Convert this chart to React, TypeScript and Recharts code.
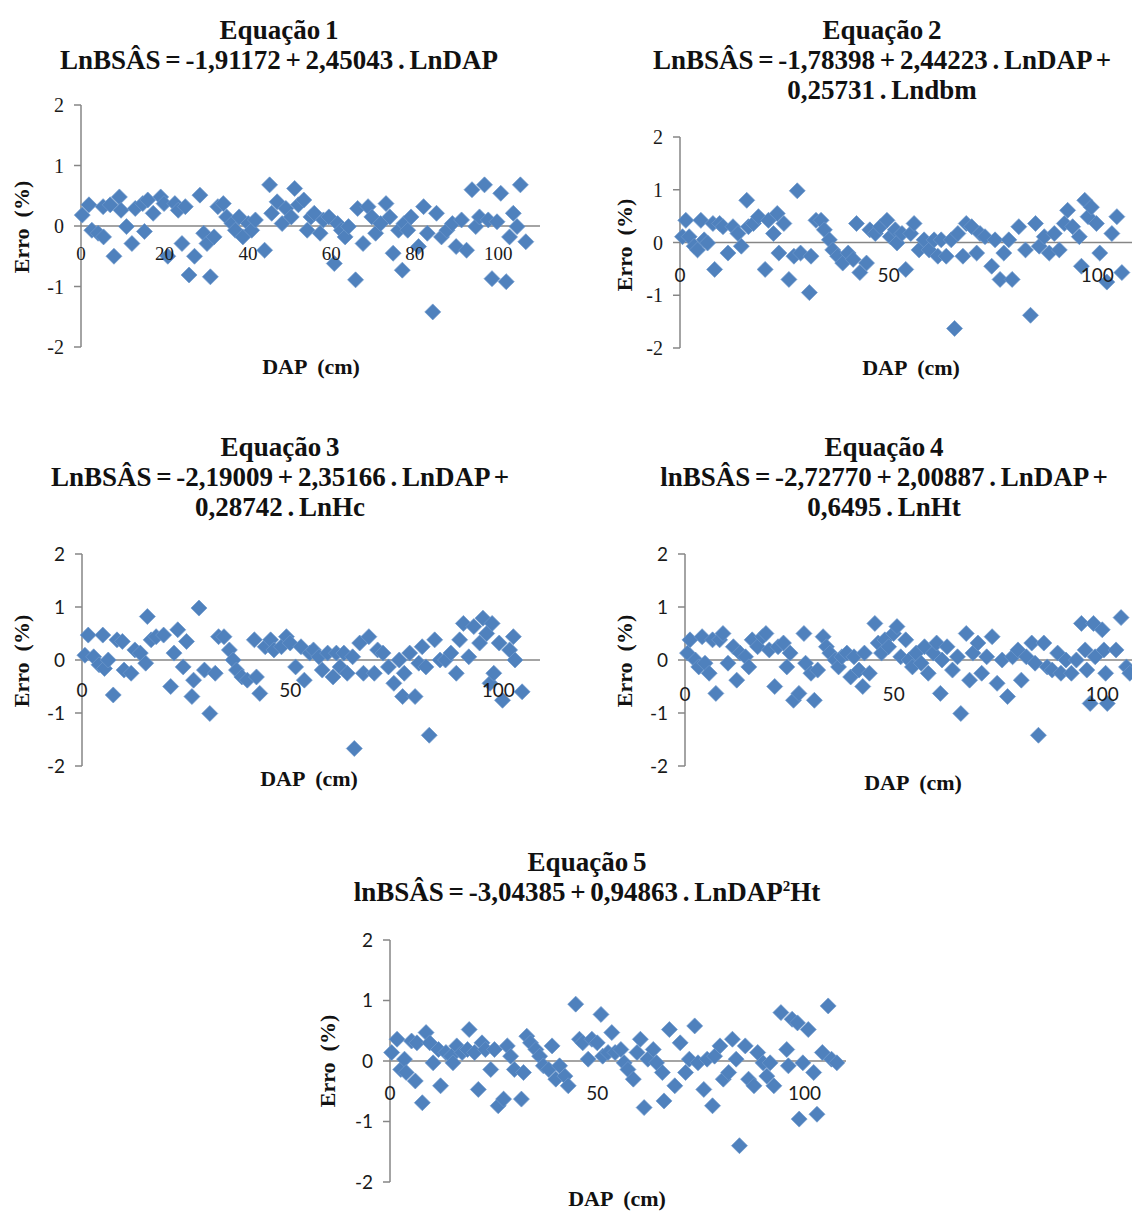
import React from 'react';
import { ScatterChart, Scatter, XAxis, YAxis, ReferenceLine } from 'recharts';

const BLUE = '#4F81BD';
const AXIS = '#868686';
const SERIF = '"Liberation Serif", "Times New Roman", serif';
const SANS = 'Lato, "Open Sans", "Liberation Sans", sans-serif';

const yTicks = [-2, -1, 0, 1, 2];
const xTicks20 = [0, 20, 40, 60, 80, 100];
const xTicks50 = [0, 50, 100];
const xDomain: [number, number] = [0, 110];
const yDomain: [number, number] = [-2, 2];

// [DAP (cm), Erro (%)]
const eq1Points: [number, number][] = [
  [0.3, 0.18], [1.9, 0.35], [2.6, -0.07], [4.1, -0.12], [5.4, -0.18], [5.3, 0.32], [7, 0.35], [7.9, -0.5],
  [9.2, 0.48], [9.6, 0.26], [10.9, -0.01], [12.2, -0.29], [13, 0.29], [14.8, 0.37], [15.2, -0.09], [16, 0.43],
  [17.3, 0.21], [19.1, 0.48], [19.9, 0.37], [20.8, -0.5], [22.5, 0.37], [23.3, 0.26], [24.2, -0.29], [25, 0.32],
  [25.9, -0.81], [27.2, -0.5], [28.5, 0.51], [29.4, -0.12], [30.2, -0.29], [31, -0.84], [31.9, -0.18], [32.8, 0.32],
  [34.1, 0.37], [34.9, 0.15], [36.2, 0.04], [37, -0.07], [37.9, 0.15], [38.8, -0.18], [40.1, 0.04], [40.9, -0.07],
  [41.8, 0.1], [44, -0.4], [45.2, 0.68], [45.7, 0.21], [47, 0.4], [48.2, 0.04], [49.1, 0.29], [50.4, 0.15],
  [51.2, 0.62], [52.1, 0.35], [53.4, 0.43], [54.2, -0.07], [55.1, 0.15], [55.9, 0.21], [57.3, -0.12], [58.1, 0.1],
  [59.4, 0.15], [60.7, -0.62], [61.5, 0.04], [62.4, -0.07], [63.3, -0.18], [64.1, -0.01], [65.8, -0.89], [66.3, 0.29],
  [67.6, -0.29], [68.8, 0.32], [69.7, 0.15], [70.6, -0.12], [71.8, 0.04], [73.1, 0.37], [74, 0.15], [74.8, -0.45],
  [76.1, -0.07], [77, -0.73], [77.4, 0.04], [78.3, -0.07], [79.1, 0.15], [80.9, -0.34], [82.1, 0.32], [83, -0.12],
  [84.3, -1.42], [85.2, 0.21], [86.4, -0.18], [87.7, -0.07], [89, 0.04], [89.9, -0.34], [91.2, 0.1], [92.4, -0.4],
  [93.7, 0.6], [94.6, -0.01], [95.5, 0.15], [96.7, 0.68], [97.6, 0.1], [98.5, -0.87], [99.7, 0.07], [100.6, 0.54],
  [101.9, -0.92], [102.7, -0.18], [103.6, 0.21], [104.5, -0.01], [105.3, 0.68], [106.6, -0.26],
];

const eq2Points: [number, number][] = [
  [0.6, 0.11], [1.4, 0.42], [2.2, 0.11], [3.4, -0.07], [4.2, -0.14], [5, 0.42], [5.8, 0.05], [6.6, -0.01],
  [7.9, 0.36], [8.3, -0.51], [9.5, 0.36], [10.3, 0.3], [11.5, -0.2], [12.7, 0.3], [13.9, 0.17], [14.7, -0.07],
  [16, 0.8], [16.4, 0.3], [17.6, 0.36], [18.8, 0.49], [20.4, -0.51], [21.2, 0.42], [22.4, 0.17], [23.3, 0.55],
  [23.7, -0.2], [24.9, 0.36], [26.1, -0.7], [27.3, -0.26], [28.1, 0.98], [28.9, -0.2], [31, -0.95], [31.4, -0.26],
  [32.6, 0.42], [33.8, 0.42], [34.6, 0.24], [35.8, 0.05], [36.6, -0.14], [37.8, -0.26], [39, -0.39], [40.3, -0.2],
  [41.5, -0.32], [42.3, 0.36], [43.1, -0.57], [44.7, -0.39], [45.5, 0.24], [46.8, 0.17], [48, 0.3], [49.6, 0.42],
  [50.4, 0.11], [51.6, 0.24], [52, -0.01], [53.2, 0.17], [54.1, -0.51], [55.3, 0.17], [56.1, 0.36], [57.3, -0.14],
  [58.5, 0.05], [59.7, -0.14], [60.9, 0.05], [61.8, -0.26], [62.6, 0.05], [63.8, -0.26], [65, 0.05], [65.8, -1.63],
  [66.6, 0.17], [67.8, -0.26], [68.6, 0.36], [69.9, 0.3], [71.1, -0.2], [71.9, 0.17], [73.1, 0.11], [74.7, -0.45],
  [75.5, 0.05], [76.7, -0.7], [77.6, -0.2], [78.8, 0.05], [79.6, -0.7], [81.2, 0.3], [82.8, -0.14], [84, -1.38],
  [85.2, 0.36], [86.1, -0.07], [87.3, 0.11], [88.5, -0.2], [89.7, 0.17], [90.9, -0.14], [92.1, 0.36], [92.9, 0.61],
  [94.1, 0.3], [95.7, 0.11], [96.2, -0.45], [97, 0.8], [97.8, 0.49], [98.6, 0.67], [99.8, 0.36], [100.6, -0.2],
  [102.3, -0.75], [103.5, 0.17], [104.7, 0.49], [105.9, -0.57],
];

const eq3Points: [number, number][] = [
  [0.7, 0.09], [1.5, 0.47], [2.8, 0.06], [4.1, -0.09], [5, 0.47], [5.4, -0.16], [6.3, 0], [7.5, -0.66],
  [8.4, 0.38], [9.7, 0.35], [10.1, -0.19], [11.8, -0.25], [12.7, 0.19], [14, 0.13], [15.3, -0.06], [15.7, 0.82],
  [16.6, 0.38], [17.8, 0.44], [19.6, 0.47], [21.3, -0.5], [22.1, 0.13], [23, 0.57], [24.3, -0.13], [25.1, 0.35],
  [26.4, -0.69], [26.8, -0.38], [28.1, 0.98], [29.4, -0.19], [30.7, -1.01], [32, -0.25], [32.8, 0.44], [34.1, 0.44],
  [35.4, 0.19], [36.3, 0], [37.1, -0.19], [38.4, -0.32], [39.7, -0.38], [41.4, 0.38], [41.9, -0.32], [42.7, -0.63],
  [44, 0.25], [45.3, 0.38], [46.1, 0.19], [47.9, 0.25], [49.1, 0.44], [50, 0.32], [51.3, -0.13], [52.6, 0.25],
  [53.4, -0.38], [54.7, 0.13], [55.6, 0.19], [56.9, 0.06], [57.7, -0.19], [59, 0.13], [60.3, -0.32], [61.1, 0.13],
  [62, -0.13], [62.9, 0.13], [63.7, -0.25], [65, 0.06], [65.4, -1.67], [66.7, 0.32], [67.6, -0.25], [68.9, 0.44],
  [70.2, -0.25], [71, 0.19], [72.3, 0.13], [73.6, -0.13], [74.9, -0.44], [76.2, 0], [77, -0.69], [77.4, -0.25],
  [78.7, 0.13], [80, -0.69], [80.9, -0.06], [81.7, 0.25], [82.6, -0.13], [83.4, -1.42], [84.7, 0.38], [86, 0],
  [87.3, 0], [88.6, 0.13], [89.9, -0.25], [90.7, 0.38], [91.6, 0.69], [92.9, 0.06], [94.1, 0.63], [95.5, 0.32],
  [96.3, 0.79], [97.2, 0.5], [98, -0.44], [98.5, 0.69], [98.9, -0.25], [100.2, 0.32], [101, -0.76], [102.7, 0.19],
  [103.6, 0.44], [104, 0], [105.7, -0.6],
];

const eq4Points: [number, number][] = [
  [0.6, 0.13], [1.2, 0.38], [2.5, 0], [3.3, -0.13], [4.1, 0.44], [4.8, -0.06], [5.8, -0.25], [6.6, 0.38],
  [7.4, -0.63], [8.3, 0.38], [9.1, 0.5], [10.3, -0.06], [11.6, 0.25], [12.4, -0.38], [13.2, 0.13], [14.5, 0.06],
  [15.3, -0.13], [16.1, 0.38], [17.4, 0.25], [18.6, 0.44], [19.4, 0.5], [20.2, 0.19], [21.5, -0.5], [22.3, 0.25],
  [23.6, 0.32], [24.4, -0.13], [25.2, 0.13], [26, -0.76], [27.3, -0.63], [28.5, 0.5], [28.9, -0.06], [30.2, -0.25],
  [31, -0.76], [31.8, -0.19], [33.1, 0.44], [33.9, 0.25], [34.7, 0.13], [36, 0], [36.8, -0.13], [37.6, 0.06],
  [38.8, 0.13], [39.7, -0.32], [40.5, 0.06], [41.7, -0.19], [42.6, -0.5], [43, 0.13], [44.2, -0.25], [45.5, 0.69],
  [46.3, 0.32], [47.1, 0.13], [47.9, 0.38], [48.8, 0.25], [50, 0.5], [50.8, 0.63], [51.7, 0.06], [52.9, 0.38],
  [53.7, 0], [54.5, -0.13], [55.4, 0.13], [56.6, -0.06], [57.4, 0.25], [58.3, -0.25], [59.5, 0.13], [60.3, 0.32],
  [61.2, -0.63], [61.6, 0], [62.8, 0.25], [64.1, -0.19], [65.3, 0.06], [66.1, -1.01], [67.4, 0.5], [68.2, -0.38],
  [69, 0.13], [70.2, 0.32], [71.1, -0.25], [72.3, 0.06], [73.6, 0.44], [74.8, -0.44], [76, 0], [77.3, -0.69],
  [78.5, 0.06], [79.8, 0.19], [80.6, -0.38], [81.8, 0.06], [83.1, 0.32], [83.9, -0.06], [84.7, -1.42], [86, 0.32],
  [86.8, -0.13], [88, -0.19], [89.3, 0.13], [90.1, -0.25], [91.3, 0], [92.6, -0.25], [93.8, 0], [95, 0.69],
  [95.9, 0.19], [96.3, -0.19], [97.1, -0.82], [97.9, 0.69], [98.3, 0.06], [100, 0.57], [100.4, 0.19], [100.8, -0.25],
  [101.2, -0.82], [103.3, 0.19], [104.5, 0.8], [105.8, -0.13], [106.6, -0.25],
];

const eq5Points: [number, number][] = [
  [0.4, 0.14], [1.7, 0.36], [2.6, -0.14], [3.5, 0.03], [3.9, -0.19], [5.2, 0.33], [6.1, -0.33], [6.5, 0.3],
  [7.8, -0.69], [8.7, 0.47], [9.6, 0.3], [10.4, -0.03], [11.7, 0.19], [12.2, -0.41], [13.5, 0.14], [14.8, 0.08],
  [15.2, -0.03], [16.1, 0.25], [17.4, 0.14], [18.7, 0.19], [19.1, 0.52], [20.4, 0.14], [21.3, -0.47], [22.2, 0.3],
  [23, 0.19], [24.3, -0.14], [25.2, 0.19], [26.1, -0.74], [27.4, -0.63], [28.3, 0.25], [29.1, 0.08], [30, -0.14],
  [31.7, -0.63], [32.2, -0.19], [33, 0.41], [33.9, 0.3], [35.2, 0.19], [36.1, 0.08], [37, -0.08], [38.3, -0.14],
  [39.1, 0.25], [40, -0.3], [40.9, -0.08], [42.2, -0.25], [43, -0.41], [44.8, 0.94], [45.7, 0.36], [46.5, 0.3],
  [47.8, 0.03], [48.7, 0.36], [50, 0.3], [50.9, 0.77], [51.3, 0.08], [52.6, 0.14], [53.5, 0.47], [54.3, 0.14],
  [55.7, 0.19], [56.5, -0.03], [57.4, -0.14], [58.7, -0.3], [59.6, 0.14], [60.4, 0.36], [61.3, -0.77], [62.2, 0.03],
  [63.5, 0.19], [64.3, -0.03], [65.7, -0.19], [66.1, -0.66], [67.4, 0.52], [68.7, -0.41], [70, 0.3], [71.3, -0.19],
  [72.2, 0.03], [73.5, 0.58], [74.3, -0.03], [75.7, -0.47], [76.5, 0.03], [77.8, -0.74], [78.3, 0.08], [79.6, 0.25],
  [80.4, -0.3], [81.7, -0.19], [82.6, 0.36], [83.5, 0.03], [84.3, -1.4], [85.7, 0.25], [86.5, -0.3], [87.8, -0.41],
  [88.7, 0.14], [90, -0.03], [90.9, -0.25], [91.7, -0.03], [92.6, -0.41], [94.3, 0.8], [95.7, 0.19], [96.1, -0.08],
  [97, 0.69], [98.3, 0.63], [98.7, -0.96], [99.6, -0.03], [100.9, 0.52], [102.2, -0.19], [103, -0.88], [104.3, 0.14],
  [105.7, 0.91], [106.5, 0.03], [107.8, -0.03],
];

const Diamond = (props: any) => {
  const { cx, cy } = props;
  if (cx == null || cy == null) return null;
  const r = 8;
  return (
    <path
      d={`M${cx},${cy - r}L${cx + r},${cy}L${cx},${cy + r}L${cx - r},${cy}Z`}
      fill={BLUE}
      stroke="#6d98cc"
      strokeWidth={0.7}
    />
  );
};

type PanelProps = {
  plotLeft: number;
  plotTop: number;
  plotW: number;
  plotH: number;
  xTicks: number[];
  points: [number, number][];
  yFont: string;
  xFont: string;
  yFontSize: number;
  xFontSize: number;
  xLabelDy: number;
};

function Panel({ plotLeft, plotTop, plotW, plotH, xTicks, points, yFont, xFont, yFontSize, xFontSize, xLabelDy }: PanelProps) {
  const padL = 60;
  const padT = 15;
  const padR = 15;
  const padB = 10;
  const rows = points.map(([dap, erro]) => ({ dap, erro }));
  const XTick = (p: any) => (
    <text
      x={p.x}
      y={p.y - plotH / 2 + xLabelDy}
      textAnchor="middle"
      fontFamily={xFont}
      fontSize={xFontSize}
      fill="#1a1a1a"
    >
      {p.payload.value}
    </text>
  );
  const YTick = (p: any) => (
    <text
      x={p.x}
      y={p.y}
      dy="0.36em"
      textAnchor="end"
      fontFamily={yFont}
      fontSize={yFontSize}
      fill="#1a1a1a"
    >
      {p.payload.value}
    </text>
  );
  return (
    <div style={{ position: 'absolute', left: plotLeft - padL, top: plotTop - padT }}>
      <ScatterChart
        width={plotW + padL + padR}
        height={plotH + padT + padB}
        margin={{ top: padT, right: padR, bottom: padB - 1, left: 0 }}
      >
        <YAxis
          type="number"
          dataKey="erro"
          domain={yDomain}
          ticks={yTicks}
          interval={0}
          width={padL}
          axisLine={{ stroke: AXIS, strokeWidth: 1.5 }}
          tickLine={{ stroke: AXIS, strokeWidth: 1.5 }}
          tickSize={7}
          tickMargin={10}
          tick={YTick}
        />
        <ReferenceLine y={0} stroke={AXIS} strokeWidth={1.5} />
        <Scatter data={rows} dataKey="erro" shape={Diamond} isAnimationActive={false} />
        <XAxis
          type="number"
          dataKey="dap"
          domain={xDomain}
          ticks={xTicks}
          interval={0}
          axisLine={false}
          tickLine={false}
          tickSize={0}
          tickMargin={0}
          height={1}
          tick={XTick}
        />
      </ScatterChart>
    </div>
  );
}

const titleStyle = (cx: number, top: number): React.CSSProperties => ({
  position: 'absolute',
  left: cx - 300,
  width: 600,
  top,
  textAlign: 'center',
  fontFamily: SERIF,
  fontWeight: 'bold',
  fontSize: 27,
  lineHeight: '30px',
  wordSpacing: -2,
  color: '#111',
  whiteSpace: 'nowrap',
});

const axisLabelStyle: React.CSSProperties = {
  position: 'absolute',
  fontFamily: SERIF,
  fontWeight: 'bold',
  fontSize: 22,
  color: '#111',
  whiteSpace: 'pre',
  lineHeight: '24px',
};

function YLabel({ cx, cy }: { cx: number; cy: number }) {
  return (
    <div
      style={{
        ...axisLabelStyle,
        left: cx - 60,
        top: cy - 12,
        width: 120,
        textAlign: 'center',
        transform: 'rotate(-90deg)',
      }}
    >
      {'Erro  (%)'}
    </div>
  );
}

function XLabel({ cx, cy }: { cx: number; cy: number }) {
  return (
    <div style={{ ...axisLabelStyle, left: cx - 80, top: cy - 12, width: 160, textAlign: 'center' }}>
      {'DAP  (cm)'}
    </div>
  );
}

export default function App() {
  return (
    <div
      style={{
        position: 'absolute',
        left: 0,
        top: 0,
        width: 1132,
        height: 1212,
        overflow: 'hidden',
        background: '#fff',
      }}
    >
      {/* Equação 1 */}
      <div style={titleStyle(279, 15)}>
        <div>Equação 1</div>
        <div>LnBSÂS = -1,91172 + 2,45043 . LnDAP</div>
      </div>
      <Panel plotLeft={81} plotTop={105} plotW={459} plotH={242} xTicks={xTicks20} points={eq1Points}
        yFont={SERIF} xFont={SERIF} yFontSize={20} xFontSize={19} xLabelDy={34} />
      <YLabel cx={22} cy={227} />
      <XLabel cx={311} cy={367} />

      {/* Equação 2 */}
      <div style={titleStyle(882, 15)}>
        <div>Equação 2</div>
        <div>LnBSÂS = -1,78398 + 2,44223 . LnDAP +</div>
        <div>0,25731 . Lndbm</div>
      </div>
      <Panel plotLeft={680} plotTop={137} plotW={459} plotH={211} xTicks={xTicks50} points={eq2Points}
        yFont={SERIF} xFont={SANS} yFontSize={20} xFontSize={19} xLabelDy={39} />
      <YLabel cx={625} cy={245} />
      <XLabel cx={911} cy={368} />

      {/* Equação 3 */}
      <div style={titleStyle(280, 432)}>
        <div>Equação 3</div>
        <div>LnBSÂS = -2,19009 + 2,35166 . LnDAP +</div>
        <div>0,28742 . LnHc</div>
      </div>
      <Panel plotLeft={82} plotTop={554} plotW={458} plotH={212} xTicks={xTicks50} points={eq3Points}
        yFont={SANS} xFont={SANS} yFontSize={19} xFontSize={19} xLabelDy={37} />
      <YLabel cx={22} cy={661} />
      <XLabel cx={309} cy={779} />

      {/* Equação 4 */}
      <div style={titleStyle(884, 432)}>
        <div>Equação 4</div>
        <div>lnBSÂS = -2,72770 + 2,00887 . LnDAP +</div>
        <div>0,6495 . LnHt</div>
      </div>
      <Panel plotLeft={685} plotTop={554} plotW={459} plotH={212} xTicks={xTicks50} points={eq4Points}
        yFont={SANS} xFont={SANS} yFontSize={19} xFontSize={19} xLabelDy={41} />
      <YLabel cx={625} cy={661} />
      <XLabel cx={913} cy={783} />

      {/* Equação 5 */}
      <div style={titleStyle(587, 847)}>
        <div>Equação 5</div>
        <div>
          lnBSÂS = -3,04385 + 0,94863 . LnDAP<sup style={{ fontSize: 15, lineHeight: 0 }}>2</sup>Ht
        </div>
      </div>
      <Panel plotLeft={390} plotTop={940} plotW={456} plotH={242} xTicks={xTicks50} points={eq5Points}
        yFont={SANS} xFont={SANS} yFontSize={19} xFontSize={19} xLabelDy={39} />
      <YLabel cx={328} cy={1061} />
      <XLabel cx={617} cy={1199} />
    </div>
  );
}
